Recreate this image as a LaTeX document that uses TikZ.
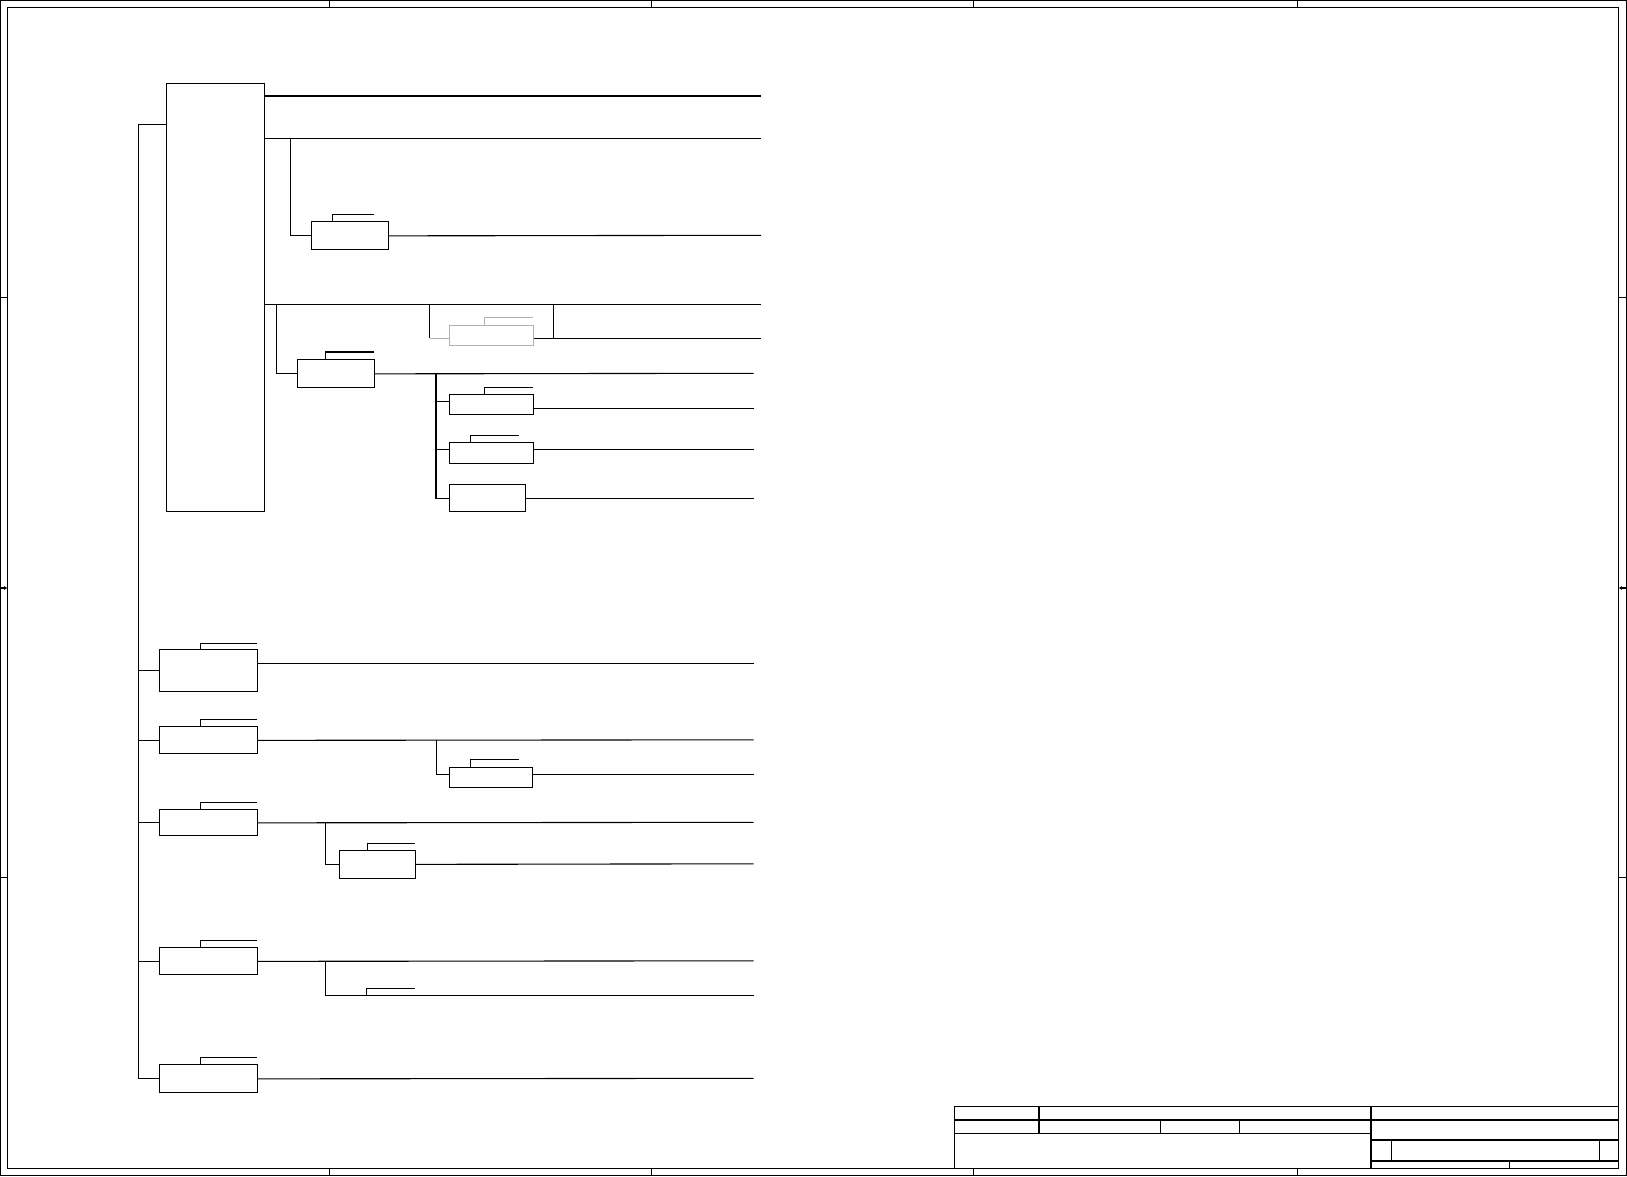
\documentclass[tikz,border=0pt]{standalone}
\usepackage{tikz}
\usetikzlibrary{arrows.meta}
\tikzset{
  wire/.style={line width=1.1pt},
  blk/.style={draw, line width=1.1pt, inner sep=0pt, anchor=north west},
  ghostblk/.style={draw=black!30, line width=0.9pt, inner sep=0pt, anchor=north west},
  ghost/.style={draw=black!30, line width=0.9pt}
}
\begin{document}
\begin{tikzpicture}[x=1pt, y=-1pt]
  \useasboundingbox (0,0) rectangle (1627,1176);
  % sheet frame and zone marks
  \draw[wire] (0.5,0.5) rectangle (1626.5,1175.5);
  \draw[wire] (7.5,7.5) rectangle (1618.5,1168.3);
  \foreach \tx in {329.5,651.5,973.5,1297.5} {
    \draw[wire] (\tx,0.5) -- (\tx,7.5);
    \draw[wire] (\tx,1168.3) -- (\tx,1175.5);
  }
  \foreach \ty in {297.5,877.5} {
    \draw[wire] (0.5,\ty) -- (7.5,\ty);
    \draw[wire] (1618.5,\ty) -- (1626.5,\ty);
  }
  \draw[wire, -{Stealth[length=3pt,width=4pt]}] (0.5,588) -- (7,588);
  \draw[wire, -{Stealth[length=3pt,width=4pt]}] (1626.5,588) -- (1619,588);

  % blocks
  \node[blk, minimum width=97.2pt, minimum height=427.2pt] (ctrl) at (166.3,83.3) {};
  \node[blk, minimum width=76.4pt, minimum height=28pt] (cfg) at (311.3,221.3) {};
  \node[blk, minimum width=76.4pt, minimum height=28pt] (hub) at (297.3,359.3) {};
  \node[ghostblk, minimum width=83.4pt, minimum height=20.6pt] (spare) at (449.3,324.7) {};
  \node[blk, minimum width=83.4pt, minimum height=20pt] (subA) at (449.3,394.3) {};
  \node[blk, minimum width=83.4pt, minimum height=21pt] (subB) at (449.3,442.3) {};
  \node[blk, minimum width=76pt, minimum height=26.5pt] (subC) at (449.3,484) {};
  \node[blk, minimum width=97.4pt, minimum height=42pt] (unitA) at (159.3,649.3) {};
  \node[blk, minimum width=97.4pt, minimum height=27pt] (unitB) at (159.3,726.3) {};
  \node[blk, minimum width=83pt, minimum height=20pt] (unitBx) at (449.3,767.3) {};
  \node[blk, minimum width=97.4pt, minimum height=26pt] (unitC) at (159.3,809.3) {};
  \node[blk, minimum width=75.7pt, minimum height=28pt] (unitCx) at (339.3,849.8) {};
  \node[blk, minimum width=97.4pt, minimum height=27pt] (unitD) at (159.3,947.3) {};
  \node[blk, minimum width=97.4pt, minimum height=28pt] (unitE) at (159.3,1064.3) {};

  % free ends of the outgoing lines
  \coordinate (r1) at (761,96);
  \coordinate (r2) at (761,138.3);
  \coordinate (r3) at (761,235.3);
  \coordinate (r4) at (761,304.3);
  \coordinate (r5) at (761,338.3);
  \coordinate (r6) at (753.7,373.3);
  \coordinate (r7) at (753.7,408.3);
  \coordinate (r8) at (753.7,449.3);
  \coordinate (r9) at (753.7,498.3);
  \coordinate (r10) at (753.7,663.3);
  \coordinate (r11) at (753.7,739.8);
  \coordinate (r12) at (753.7,774.3);
  \coordinate (r13) at (753.7,822.3);
  \coordinate (r14) at (753.7,863.8);
  \coordinate (r15) at (753.7,960.8);
  \coordinate (r16) at (753.7,995.3);
  \coordinate (r17) at (753.7,1078.3);

  % junctions
  \coordinate (bustop) at (138.3,124.3);
  \coordinate (j1) at (290.7,138.3);
  \coordinate (j2) at (276.3,304.3);
  \coordinate (j3) at (429.7,304.3);
  \coordinate (j4) at (553.3,304.3);
  \coordinate (j5) at (436,373.3);
  \coordinate (j6) at (436.3,739.8);
  \coordinate (j7) at (325.3,822.3);
  \coordinate (j8) at (325.3,960.8);

  % main bus
  \draw[wire] (ctrl.west |- bustop) -- (bustop) |- (unitE.west);
  \draw[wire] (unitA.west) -- (unitA.west -| bustop);
  \draw[wire] (unitB.west) -- (unitB.west -| bustop);
  \draw[wire] (unitC.west) -- (unitC.west -| bustop);
  \draw[wire] (unitD.west) -- (unitD.west -| bustop);

  % upper block outputs
  \draw[wire] (ctrl.east |- r1) -- (r1);
  \draw[wire] (ctrl.east |- r2) -- (r2);
  \draw[wire] (ctrl.east |- r4) -- (r4);
  \draw[wire] (j1) |- (cfg.west);
  \draw[wire] (cfg.east) -- (r3);
  \draw[wire] (j2) |- (hub.west);
  \draw[wire] (hub.east) -- (r6);
  \draw[wire] (j3) -- (j3 |- r5);
  \draw[ghost] (j3 |- r5) -- (spare.west |- r5);
  \draw[wire] (spare.east |- r5) -- (r5);
  \draw[wire] (j4) -- (j4 |- r5);
  \draw[wire] (j5) |- (subC.west |- r9);
  \draw[wire] (j5 |- 0,401.3) -- (subA.west |- 0,401.3);
  \draw[wire] (j5 |- r8) -- (subB.west |- r8);
  \draw[wire] (subA.east |- r7) -- (r7);
  \draw[wire] (subB.east |- r8) -- (r8);
  \draw[wire] (subC.east |- r9) -- (r9);

  % lower block outputs
  \draw[wire] (unitA.east |- r10) -- (r10);
  \draw[wire] (unitB.east) -- (r11);
  \draw[wire] (j6) |- (unitBx.west |- r12);
  \draw[wire] (unitBx.east |- r12) -- (r12);
  \draw[wire] (unitC.east) -- (r13);
  \draw[wire] (j7) |- (unitCx.west);
  \draw[wire] (unitCx.east) -- (r14);
  \draw[wire] (unitD.east) -- (r15);
  \draw[wire] (j8) |- (r16);
  \draw[wire] (unitE.east) -- (r17);

  % label tabs
  \draw[wire] ([xshift=21pt]cfg.north west) |- ++(41.4,-7);
  \draw[wire] ([xshift=28.4pt]hub.north west) |- ++(48,-7.3);
  \draw[ghost] ([xshift=35pt]spare.north west) |- ++(48.4,-7);
  \draw[wire] ([xshift=35pt]subA.north west) |- ++(48.4,-7);
  \draw[wire] ([xshift=21pt]subB.north west) |- ++(48.4,-7);
  \draw[wire] ([xshift=41pt]unitA.north west) |- ++(56.4,-6);
  \draw[wire] ([xshift=41pt]unitB.north west) |- ++(56.4,-7);
  \draw[wire] ([xshift=21pt]unitBx.north west) |- ++(48.5,-7.5);
  \draw[wire] ([xshift=41pt]unitC.north west) |- ++(56.4,-7);
  \draw[wire] ([xshift=28pt]unitCx.north west) |- ++(47.7,-6.2);
  \draw[wire] ([xshift=41pt]unitD.north west) |- ++(56.4,-7);
  \draw[wire] ([xshift=41pt]unitE.north west) |- ++(56.4,-7);
  \draw[wire] ([xshift=41pt]j8 |- r16) |- ++(48.7,-7);

  % title block
  \draw[wire] (954.6,1106.7) rectangle (1618.5,1168.3);
  \draw[wire] (954.6,1120) -- (1371,1120);
  \draw[wire] (954.6,1133.3) -- (1371,1133.3);
  \draw[wire] (1039,1106.7) -- (1039,1133.3);
  \draw[wire] (1160.7,1120) -- (1160.7,1133.3);
  \draw[wire] (1239.3,1120) -- (1239.3,1133.3);
  \draw[wire] (1371,1106.7) -- (1371,1168.3);
  \draw[wire] (1371,1120) -- (1618.5,1120);
  \draw[wire] (1371,1140) -- (1618.5,1140);
  \draw[wire] (1371,1161) -- (1618.5,1161);
  \draw[wire] (1391.3,1140) -- (1391.3,1161);
  \draw[wire] (1599.8,1140) -- (1599.8,1161);
  \draw[wire] (1509.6,1161) -- (1509.6,1168.3);
\end{tikzpicture}
\end{document}
